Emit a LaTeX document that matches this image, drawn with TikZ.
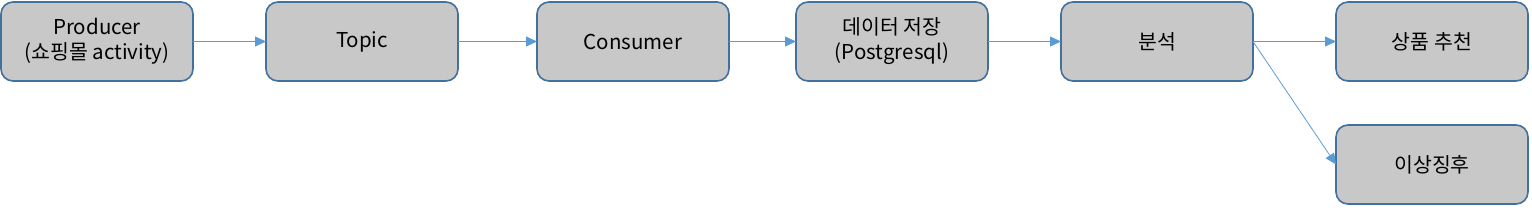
\documentclass[tikz,border=0pt]{standalone}
\usepackage{fontspec}
\setmainfont{Noto Sans CJK KR}
\usepackage{xcolor}
\usepackage{tikz}
\usetikzlibrary{arrows.meta, positioning}

\definecolor{boxfill}{HTML}{C8C8C8}
\definecolor{boxline}{HTML}{41719C}
\definecolor{flowline}{HTML}{5B9BD5}

\begin{document}
\begin{tikzpicture}[
  stage/.style={rectangle, draw=boxline, fill=boxfill, line width=1.6pt, rounded corners=12pt,
    minimum width=192pt, minimum height=79pt, inner sep=0pt, outer sep=0pt, align=center,
    font=\fontsize{20.5}{25}\selectfont},
  flow/.style={draw=flowline, line width=0.8pt, -{Triangle[length=11pt, width=10pt]}}
]
  \useasboundingbox (0,0) rectangle (1532pt,-207pt);
  \node[stage] (producer) at (97pt,-41.5pt) {Producer\\(쇼핑몰 activity)};
  \node[stage, right=73pt of producer] (topic) {Topic};
  \node[stage, right=79pt of topic] (consumer) {Consumer};
  \node[stage, right=67pt of consumer] (store) {데이터 저장\\(Postgresql)};
  \node[stage, right=73pt of store] (analysis) {분석};
  \node[stage, right=83pt of analysis] (recommend) {상품 추천};
  \node[stage, below=44pt of recommend] (anomaly) {이상징후};

  \draw[flow] (producer) -- (topic);
  \draw[flow] (topic) -- (consumer);
  \draw[flow] (consumer) -- (store);
  \draw[flow] (store) -- (analysis);
  \draw[flow] (analysis) -- (recommend);
  \draw[flow] (analysis.east) -- (anomaly.west);
\end{tikzpicture}
\end{document}
